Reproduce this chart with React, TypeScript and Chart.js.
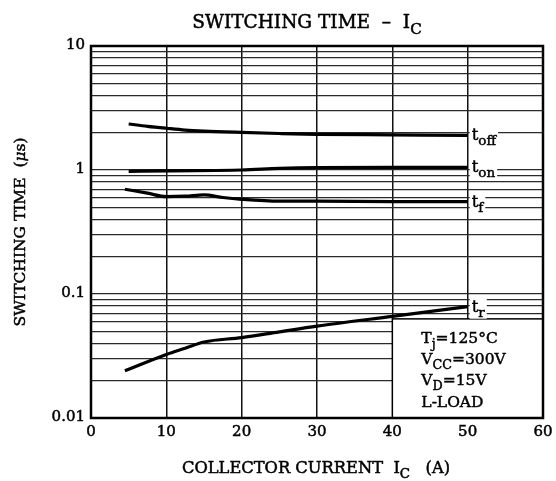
import React, { useEffect, useRef } from "react";
import { Chart, registerables } from "chart.js";

Chart.register(...registerables);

// ---- data ----
const TOFF_X = [5, 7.5, 10, 12.5, 15, 20, 25, 30, 40, 50];
const TOFF_Y = [2.35, 2.25, 2.17, 2.1, 2.06, 2.01, 1.97, 1.94, 1.92, 1.9];
const TON_X = [5, 10, 20, 25, 30, 40, 50];
const TON_Y = [0.975, 0.985, 1.0, 1.03, 1.045, 1.05, 1.05];
const TF_X = [4.5, 7.5, 10, 12.5, 15, 17.5, 20, 25, 30, 40, 50];
const TF_Y = [0.7, 0.65, 0.61, 0.615, 0.63, 0.6, 0.58, 0.56, 0.56, 0.555, 0.555];
const TR_X = [4.5, 10, 12.5, 15, 20, 25, 30, 40, 50];
const TR_Y = [0.024, 0.0325, 0.0365, 0.041, 0.0445, 0.0495, 0.055, 0.066, 0.079];

const SERIES_SUBS = ["off", "on", "f", "r"];
const X_TICKS = [0, 10, 20, 30, 40, 50, 60];
const Y_TICK_LABELS = ["10", "1", "0.1", "0.01"];
const Y_TICK_VALUES = [10, 1, 0.1, 0.01];
const Y_GRID = [
  0.01, 0.02, 0.03, 0.04, 0.05, 0.06, 0.07, 0.08, 0.09,
  0.1, 0.2, 0.3, 0.4, 0.5, 0.6, 0.7, 0.8, 0.9,
  1, 2, 3, 4, 5, 6, 7, 8, 9, 10,
];
const BOX_X = 40;
const BOX_TOP = 0.063;
const CONDITIONS: [string, string, string][] = [
  ["T", "j", "=125°C"],
  ["V", "CC", "=300V"],
  ["V", "D", "=15V"],
  ["L-LOAD", "", ""],
];

const FONT = '"DejaVu Serif", serif';

type Part = { t: string; sub?: boolean; italic?: boolean };

function partFont(p: Part, size: number) {
  const s = p.sub ? size * 0.82 : size;
  return `${p.italic ? "italic " : ""}${s}px ${FONT}`;
}

function richWidth(ctx: CanvasRenderingContext2D, parts: Part[], size: number) {
  let w = 0;
  for (const p of parts) {
    ctx.font = partFont(p, size);
    w += ctx.measureText(p.t).width;
  }
  return w;
}

function heavyText(ctx: CanvasRenderingContext2D, t: string, x: number, y: number) {
  ctx.fillText(t, x, y);
  ctx.strokeText(t, x, y);
}

function drawRich(
  ctx: CanvasRenderingContext2D,
  parts: Part[],
  x: number,
  y: number,
  size: number
) {
  ctx.textAlign = "left";
  ctx.textBaseline = "alphabetic";
  let cx = x;
  for (const p of parts) {
    ctx.font = partFont(p, size);
    heavyText(ctx, p.t, cx, p.sub ? y + size * 0.3 : y);
    cx += ctx.measureText(p.t).width;
  }
  return cx;
}

const overlay = {
  id: "overlay",
  afterDatasetsDraw(chart: any) {
    const ctx: CanvasRenderingContext2D = chart.ctx;
    const xs = chart.scales.x;
    const ys = chart.scales.y;
    const area = chart.chartArea;
    ctx.save();
    // condition box
    const bx = xs.getPixelForValue(BOX_X);
    const by = ys.getPixelForValue(BOX_TOP);
    ctx.fillStyle = "#fff";
    ctx.fillRect(bx, by, area.right - bx, area.bottom - by);
    ctx.strokeStyle = "#000";
    ctx.lineWidth = 1.5;
    ctx.strokeRect(bx, by, area.right - bx, area.bottom - by);
    ctx.fillStyle = "#000";
    ctx.lineWidth = 0.45;
    CONDITIONS.forEach((c, i) => {
      const parts: Part[] = [{ t: c[0] }];
      if (c[1]) parts.push({ t: c[1], sub: true });
      if (c[2]) parts.push({ t: c[2] });
      drawRich(ctx, parts, bx + 29, by + 24 + i * 21.3, 15.5);
    });
    // curve labels
    const ends = [TOFF_Y, TON_Y, TF_Y, TR_Y].map((a) => a[a.length - 1]);
    const lx = xs.getPixelForValue(50);
    SERIES_SUBS.forEach((s, i) => {
      const ly = ys.getPixelForValue(ends[i]);
      const parts: Part[] = [{ t: "t" }, { t: s, sub: true }];
      const w = richWidth(ctx, parts, 16.5);
      ctx.fillStyle = "#fff";
      ctx.fillRect(lx + 2, ly - 8, w + 4, 20);
      ctx.fillStyle = "#000";
      drawRich(ctx, parts, lx + 4, ly + 5, 16.5);
    });
    ctx.restore();
  },
  afterDraw(chart: any) {
    const ctx: CanvasRenderingContext2D = chart.ctx;
    const xs = chart.scales.x;
    const ys = chart.scales.y;
    const a = chart.chartArea;
    ctx.save();
    ctx.strokeStyle = "#000";
    ctx.lineWidth = 2.5;
    ctx.strokeRect(a.left, a.top, a.right - a.left, a.bottom - a.top);
    ctx.fillStyle = "#000";
    ctx.lineWidth = 0.5;
    ctx.font = `15px ${FONT}`;
    ctx.textAlign = "right";
    ctx.textBaseline = "middle";
    Y_TICK_VALUES.forEach((v, i) => {
      heavyText(ctx, Y_TICK_LABELS[i], a.left - 6, ys.getPixelForValue(v) - 1);
    });
    ctx.textAlign = "center";
    ctx.textBaseline = "middle";
    X_TICKS.forEach((v) => {
      heavyText(ctx, String(v), xs.getPixelForValue(v), a.bottom + 14);
    });
    // title
    const title: Part[] = [{ t: "SWITCHING TIME  –  I" }, { t: "C", sub: true }];
    const tw = richWidth(ctx, title, 18.5);
    drawRich(ctx, title, 307 - tw / 2, 28, 18.5);
    // x title
    const xt: Part[] = [
      { t: "COLLECTOR CURRENT  I" },
      { t: "C", sub: true },
      { t: "   (A)" },
    ];
    const xw = richWidth(ctx, xt, 16.3);
    drawRich(ctx, xt, 316 - xw / 2, 473, 16.3);
    // y title
    const yt: Part[] = [
      { t: "SWITCHING TIME  (" },
      { t: "μ", italic: true },
      { t: "s)" },
    ];
    const yw = richWidth(ctx, yt, 15.5);
    ctx.translate(25, (a.top + a.bottom) / 2);
    ctx.rotate(-Math.PI / 2);
    drawRich(ctx, yt, -yw / 2, 0, 15.5);
    ctx.restore();
  },
};

function ds(xs: number[], ys: number[]) {
  return {
    data: xs.map((x, i) => ({ x, y: ys[i] })),
    borderColor: "#000",
    borderWidth: 3.2,
    pointRadius: 0,
    fill: false,
    cubicInterpolationMode: "monotone" as const,
  };
}

export default function App() {
  const ref = useRef<HTMLCanvasElement>(null);
  useEffect(() => {
    if (!ref.current) return;
    const chart = new Chart(ref.current, {
      type: "line",
      data: {
        datasets: [
          ds(TOFF_X, TOFF_Y),
          ds(TON_X, TON_Y),
          ds(TF_X, TF_Y),
          ds(TR_X, TR_Y),
        ],
      },
      options: {
        responsive: false,
        animation: false,
        devicePixelRatio: 1,
        layout: { padding: { left: 91, right: 13, top: 46, bottom: 63 } },
        plugins: { legend: { display: false }, tooltip: { enabled: false } },
        scales: {
          x: {
            type: "linear",
            min: 0,
            max: 60,
            ticks: { display: false, stepSize: 10 },
            grid: { color: "#111", lineWidth: 1.5, drawTicks: false },
            border: { display: false },
          },
          y: {
            type: "logarithmic",
            min: 0.01,
            max: 10,
            afterBuildTicks: (s: any) => {
              s.ticks = Y_GRID.map((v) => ({ value: v }));
            },
            ticks: { display: false },
            grid: { color: "#2a2a2a", lineWidth: 1.2, drawTicks: false },
            border: { display: false },
          },
        },
      },
      plugins: [overlay],
    });
    return () => chart.destroy();
  }, []);
  return (
    <div style={{ position: "fixed", left: 0, top: 0, width: 556, height: 481, background: "#fff" }}>
      <canvas ref={ref} width={556} height={481} />
    </div>
  );
}
